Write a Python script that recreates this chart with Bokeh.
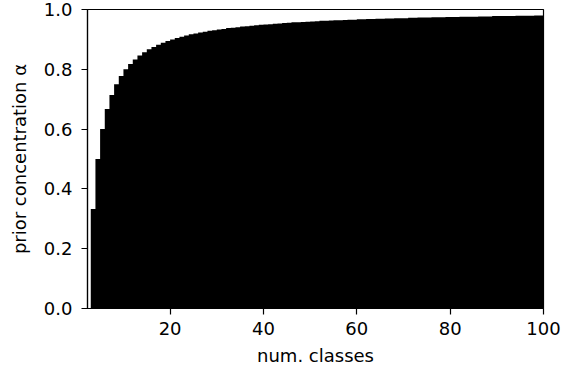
from bokeh.plotting import figure
from bokeh.models import ColumnDataSource, FixedTicker, Range1d
from bokeh.embed import file_html
from bokeh.resources import INLINE

# number of classes (categories)
num_classes = list(range(3, 101))
# prior concentration alpha
alpha = [
    0.333, 0.500, 0.600, 0.667, 0.714, 0.750, 0.778, 0.800, 0.818, 0.833,
    0.846, 0.857, 0.867, 0.875, 0.882, 0.889, 0.895, 0.900, 0.905, 0.909,
    0.913, 0.917, 0.920, 0.923, 0.926, 0.929, 0.931, 0.933, 0.935, 0.938,
    0.939, 0.941, 0.943, 0.944, 0.946, 0.947, 0.949, 0.950, 0.951, 0.952,
    0.953, 0.955, 0.956, 0.957, 0.957, 0.958, 0.959, 0.960, 0.961, 0.962,
    0.962, 0.963, 0.964, 0.964, 0.965, 0.966, 0.966, 0.967, 0.967, 0.968,
    0.968, 0.969, 0.969, 0.970, 0.970, 0.971, 0.971, 0.971, 0.972, 0.972,
    0.973, 0.973, 0.973, 0.974, 0.974, 0.974, 0.975, 0.975, 0.975, 0.976,
    0.976, 0.976, 0.976, 0.977, 0.977, 0.977, 0.978, 0.978, 0.978, 0.978,
    0.978, 0.979, 0.979, 0.979, 0.979, 0.980, 0.980, 0.980,
]
x_ticks = [20, 40, 60, 80, 100]
x_tick_labels = ["20", "40", "60", "80", "100"]
y_ticks = [0.0, 0.2, 0.4, 0.6, 0.8, 1.0]
y_tick_labels = ["0.0", "0.2", "0.4", "0.6", "0.8", "1.0"]

source = ColumnDataSource(data=dict(k=num_classes, alpha=alpha))

FONT = "DejaVu Sans"
FS = "18px"

p = figure(
    width=560, height=368,
    output_backend="svg", toolbar_location=None,
    x_range=Range1d(2.3, 100), y_range=Range1d(0, 1),
    min_border_left=82, min_border_right=22,
    min_border_top=9, min_border_bottom=60,
)
p.margin = (0, 0, 0, 5)

p.varea_step(x="k", y1=0, y2="alpha", step_mode="after",
             source=source, fill_color="black")

p.grid.visible = False
p.outline_line_color = "black"
p.outline_line_width = 1.2
p.background_fill_color = "white"
p.border_fill_color = "white"

for ax in (p.xaxis[0], p.yaxis[0]):
    ax.axis_line_color = "black"
    ax.axis_line_width = 1.2
    ax.major_tick_line_color = "black"
    ax.major_tick_line_width = 1.2
    ax.major_tick_out = 6
    ax.major_tick_in = 0
    ax.minor_tick_line_color = None
    ax.major_label_text_font = FONT
    ax.major_label_text_font_size = FS
    ax.major_label_text_color = "black"
    ax.axis_label_text_font = FONT
    ax.axis_label_text_font_size = FS
    ax.axis_label_text_font_style = "normal"
    ax.axis_label_text_color = "black"

p.xaxis.ticker = FixedTicker(ticks=x_ticks)
p.xaxis.major_label_overrides = dict(zip(x_ticks, x_tick_labels))
p.yaxis.ticker = FixedTicker(ticks=y_ticks)
p.yaxis.major_label_overrides = dict(zip(y_ticks, y_tick_labels))

p.xaxis.axis_label = "num. classes"
p.yaxis.axis_label = "prior concentration α"
p.xaxis.major_label_standoff = 7
p.yaxis.major_label_standoff = 9
p.xaxis.axis_label_standoff = 7
p.yaxis.axis_label_standoff = 11

open("out.html", "w").write(file_html(p, INLINE))
